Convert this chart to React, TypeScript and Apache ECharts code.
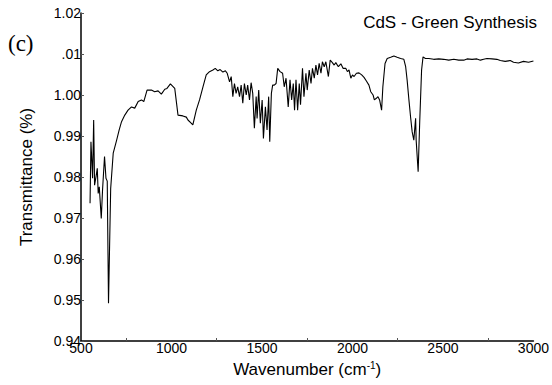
import React, { useEffect, useRef } from "react";
import * as echarts from "echarts";

const wavenumbers: number[] = [
  550, 555, 564, 570, 575, 583, 590, 595, 601, 612, 619, 630, 638, 645, 652, 664, 678, 697, 711, 724,
  742, 760, 779, 797, 816, 834, 847, 865, 889, 907, 926, 944, 963, 975, 994, 1018, 1036, 1063, 1082, 1091,
  1110, 1118, 1137, 1155, 1174, 1192, 1210, 1229, 1242, 1256, 1269, 1284, 1298, 1308, 1321, 1330, 1339, 1348, 1357, 1366,
  1376, 1385, 1394, 1403, 1413, 1421, 1431, 1440, 1449, 1458, 1468, 1473, 1482, 1491, 1501, 1508, 1519, 1528, 1537, 1543,
  1552, 1559, 1568, 1578, 1587, 1600, 1614, 1623, 1633, 1645, 1655, 1664, 1673, 1680, 1688, 1697, 1706, 1713, 1724, 1732,
  1743, 1750, 1761, 1771, 1779, 1789, 1798, 1807, 1816, 1826, 1834, 1844, 1853, 1867, 1877, 1889, 1899, 1908, 1922, 1936,
  1948, 1963, 1972, 1981, 1991, 2000, 2009, 2022, 2036, 2051, 2064, 2077, 2091, 2101, 2114, 2121, 2132, 2141, 2150, 2161,
  2168, 2180, 2192, 2211, 2229, 2247, 2266, 2284, 2294, 2302, 2312, 2321, 2330, 2339, 2349, 2352, 2363, 2372, 2382, 2390,
  2403, 2422, 2449, 2477, 2504, 2532, 2560, 2587, 2615, 2633, 2661, 2688, 2707, 2725, 2743, 2771, 2798, 2817, 2844, 2872,
  2890, 2917, 2945, 2973, 3000,
];

const transmittance: number[] = [
  0.9736, 0.9886, 0.9797, 0.9939, 0.978, 0.9801, 0.9821, 0.976, 0.9776, 0.9699, 0.9768, 0.985, 0.9797, 0.979, 0.9492, 0.9772, 0.9858, 0.989, 0.9915, 0.9935,
  0.9951, 0.9963, 0.9971, 0.9968, 0.9984, 0.9988, 0.9984, 1.0012, 1.0012, 1.0008, 1.001, 1.0002, 1.0014, 1.0016, 1.0027, 1.0016, 0.9951, 0.9949, 0.9946, 0.9939,
  0.9931, 0.9927, 0.9963, 0.9988, 1.002, 1.0049, 1.0057, 1.0061, 1.0065, 1.0059, 1.0062, 1.0056, 1.0059, 1.0053, 1.0032, 1.0045, 0.9996, 1.0028, 1.0004, 1.002,
  0.9996, 1.0024, 0.998, 1.0028, 1.0, 1.0024, 0.9988, 1.003, 1.0004, 0.9919, 0.9996, 0.9943, 1.0012, 0.9931, 0.9988, 0.9894, 0.9971, 0.9915, 0.9996, 0.9886,
  1.0004, 1.0024, 1.0024, 1.0028, 1.0065, 1.0057, 1.0053, 1.002, 1.0041, 0.9971, 1.0037, 0.9988, 1.0028, 0.9963, 1.0037, 0.9963, 1.0028, 0.9976, 1.0065, 0.9996,
  1.0053, 1.0012, 1.0061, 1.0028, 1.0065, 1.0041, 1.0073, 1.0049, 1.0077, 1.0053, 1.0081, 1.0069, 1.0081, 1.0045, 1.0085, 1.0079, 1.0073, 1.0079, 1.0069, 1.0076,
  1.0065, 1.0065, 1.0057, 1.0061, 1.0041, 1.0049, 1.0045, 1.0053, 1.0054, 1.0049, 1.0043, 1.0034, 1.0024, 1.0008, 1.0, 0.9988, 0.9992, 0.9996, 0.9988, 0.9963,
  1.002, 1.0077, 1.0089, 1.0092, 1.0095, 1.0092, 1.0089, 1.0087, 1.0069, 1.0037, 0.9988, 0.9947, 0.991, 0.989, 0.9943, 0.989, 0.9813, 0.9939, 1.0061, 1.0093,
  1.0089, 1.0089, 1.0087, 1.0088, 1.0087, 1.0085, 1.0087, 1.0085, 1.0085, 1.0088, 1.0087, 1.0088, 1.0085, 1.0087, 1.0089, 1.0088, 1.0087, 1.0084, 1.0082, 1.0084,
  1.008, 1.0078, 1.0082, 1.008, 1.0083,
];

const yTickLabels: Record<string, string> = {
  "0.94": "0.94",
  "0.95": "0.95",
  "0.96": "0.96",
  "0.97": "0.97",
  "0.98": "0.98",
  "0.99": "0.99",
  "1.00": "1.00",
  "1.01": ".01",
  "1.02": "1.02",
};

const chartTitle = "CdS - Green Synthesis";
const panelLabel = "(c)";

export default function App() {
  const ref = useRef<HTMLDivElement>(null);
  useEffect(() => {
    if (!ref.current) return;
    const chart = echarts.init(ref.current, undefined, { renderer: "svg" });
    const data = wavenumbers.map((w, i) => [w, transmittance[i]]);
    const font = "'Liberation Sans', Arial, sans-serif";
    chart.setOption({
      animation: false,
      backgroundColor: "#ffffff",
      grid: { left: 81, top: 13, right: 17, bottom: 44, containLabel: false },
      xAxis: {
        type: "value",
        min: 500,
        max: 3000,
        interval: 500,
        name: "Wavenumber (cm{sup|-1})",
        nameLocation: "middle",
        nameGap: 19,
        nameTextStyle: {
          fontFamily: font,
          fontSize: 17,
          color: "#000",
          verticalAlign: "top",
          rich: { sup: { fontFamily: font, fontSize: 10, color: "#000", verticalAlign: "top", padding: [0, 0, 9, 0] } },
        },
        axisLine: { show: true, lineStyle: { color: "#000", width: 1.5 } },
        axisTick: { show: false, inside: true },
        minorTick: { show: true, splitNumber: 2, length: 3, lineStyle: { color: "#555", width: 1 } },
        splitLine: { show: false },
        minorSplitLine: { show: false },
        axisLabel: {
          fontFamily: font,
          fontSize: 14,
          color: "#000",
          margin: 0,
          verticalAlign: "top",
          formatter: (v: number) => String(Math.round(v)),
        },
      },
      yAxis: {
        type: "value",
        min: 0.94,
        max: 1.02,
        interval: 0.01,
        name: "Transmittance (%)",
        nameLocation: "middle",
        nameGap: 46,
        nameTextStyle: { fontFamily: font, fontSize: 17, color: "#000" },
        axisLine: { show: true, lineStyle: { color: "#000", width: 1.5 } },
        axisTick: { show: true, inside: true, length: 3, lineStyle: { color: "#555", width: 1 } },
        splitLine: { show: false },
        axisLabel: {
          fontFamily: font,
          fontSize: 14,
          color: "#000",
          margin: 0,
          formatter: (v: number) => yTickLabels[v.toFixed(2)] ?? v.toFixed(2),
        },
      },
      graphic: [
        {
          type: "text",
          x: 537,
          y: 22,
          style: { text: chartTitle, fontFamily: font, fontSize: 17, fill: "#000", align: "right", verticalAlign: "middle" },
        },
        {
          type: "text",
          x: 8,
          y: 43,
          style: { text: panelLabel, fontFamily: "'Liberation Serif', 'Times New Roman', serif", fontSize: 23, fill: "#000", align: "left", verticalAlign: "middle" },
        },
      ],
      series: [
        {
          type: "line",
          data,
          showSymbol: false,
          symbol: "none",
          lineStyle: { color: "#000", width: 1.1 },
        },
      ],
    });
    return () => chart.dispose();
  }, []);
  return <div ref={ref} style={{ width: 552, height: 385, position: "absolute", left: 0, top: 0 }} />;
}
